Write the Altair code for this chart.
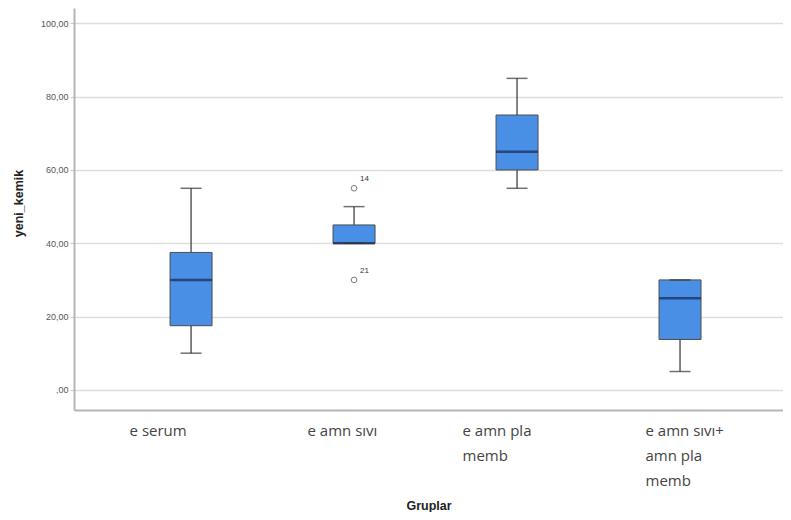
import altair as alt
import pandas as pd

groups = ["e serum", "e amn sıvı", "e amn pla\nmemb", "e amn sıvı+\namn pla\nmemb"]
whisker_low = [10, 40, 55, 5]
q1 = [17.5, 40, 60, 13.75]
median = [30, 40, 65, 25]
q3 = [37.5, 45, 75, 30]
whisker_high = [55, 50, 85, 30]

outlier_group = ["e amn sıvı", "e amn sıvı"]
outlier_value = [55, 30]
outlier_label = ["14", "21"]

y_ticks = [0, 20, 40, 60, 80, 100]
label_shift = [-62, -47, -55, -35]

box = pd.DataFrame({
    "group": groups, "lo": whisker_low, "q1": q1, "med": median,
    "q3": q3, "hi": whisker_high,
})
outl = pd.DataFrame({"group": outlier_group, "value": outlier_value, "label": outlier_label})

xscale = alt.Scale(type="point", domain=groups, padding=0.675, align=0.532)
yscale = alt.Scale(domain=[-5.5, 104.2], nice=False, zero=False)

offset_cond = {
    "condition": [
        {"test": "datum.value == " + repr(g).replace("\\n", "\\n"), "value": s}
        for g, s in zip(groups[:-1], label_shift[:-1])
    ],
    "value": label_shift[-1],
}

x_enc = alt.X(
    "group:N", scale=xscale, sort=groups,
    axis=alt.Axis(
        title="Gruplar", labelAngle=0, labelAlign="left", labelOffset=offset_cond,
        labelBaseline="top", labelPadding=13, labelLineHeight=25,
        labelExpr="split(datum.label, '\\n')", labelFont="Open Sans",
        labelFontSize=15, labelColor="#444444", labelLimit=0, ticks=False,
        grid=False, domainColor="#b5b5b5", domainWidth=2,
        titleFont="Liberation Sans", titleFontSize=12.5, titleFontWeight="bold",
        titleColor="#222222", titleY=95, titleBaseline="middle",
    ),
)
y_axis = alt.Axis(
    title="yeni_kemik", values=y_ticks,
    labelExpr="datum.value == 0 ? ',00' : replace(format(datum.value, '.2f'), '.', ',')",
    labelFont="Liberation Sans", labelFontSize=9, labelColor="#555555",
    labelPadding=2, tickSize=4, tickColor="#c8c8c8",
    grid=True, gridColor="#dddddd", gridWidth=1.5,
    domainColor="#b5b5b5", domainWidth=2,
    titleFont="Liberation Sans", titleFontSize=12.5, titleFontWeight="bold",
    titleColor="#222222", titleX=-56, titleY=195, titleBaseline="middle",
)

base = alt.Chart(box)

whisk = base.mark_rule(color="#333333", strokeWidth=1.2).encode(
    x=x_enc, y=alt.Y("lo:Q", scale=yscale, axis=y_axis), y2="hi:Q"
)
bars = base.mark_bar(size=42, color="#4a8fe6", stroke="#4d4d4d", strokeWidth=1).encode(
    x="group:N", y="q1:Q", y2="q3:Q"
)
med = base.mark_tick(size=42, thickness=2.5, color="#18264d").encode(
    x="group:N", y="med:Q"
)
cap_lo = base.mark_tick(size=21, thickness=1.5, color="#333333").encode(
    x="group:N", y="lo:Q"
)
cap_hi = base.mark_tick(size=21, thickness=1.5, color="#333333").encode(
    x="group:N", y="hi:Q"
)
pts = alt.Chart(outl).mark_point(shape="circle", filled=False, size=32,
                                 color="#444444", strokeWidth=1).encode(
    x="group:N", y="value:Q"
)
lbls = alt.Chart(outl).mark_text(align="left", dx=6, dy=-9, fontSize=8,
                                 font="Liberation Sans", color="#333333").encode(
    x="group:N", y="value:Q", text="label:N"
)

chart = alt.layer(whisk, bars, med, cap_lo, cap_hi, pts, lbls).properties(
    width=709, height=402,
    padding={"left": 4, "top": 0, "right": 0, "bottom": 0},
    background="white",
).configure_view(strokeWidth=0)

chart.save("out.html", embed_options={"renderer": "svg", "actions": False})
